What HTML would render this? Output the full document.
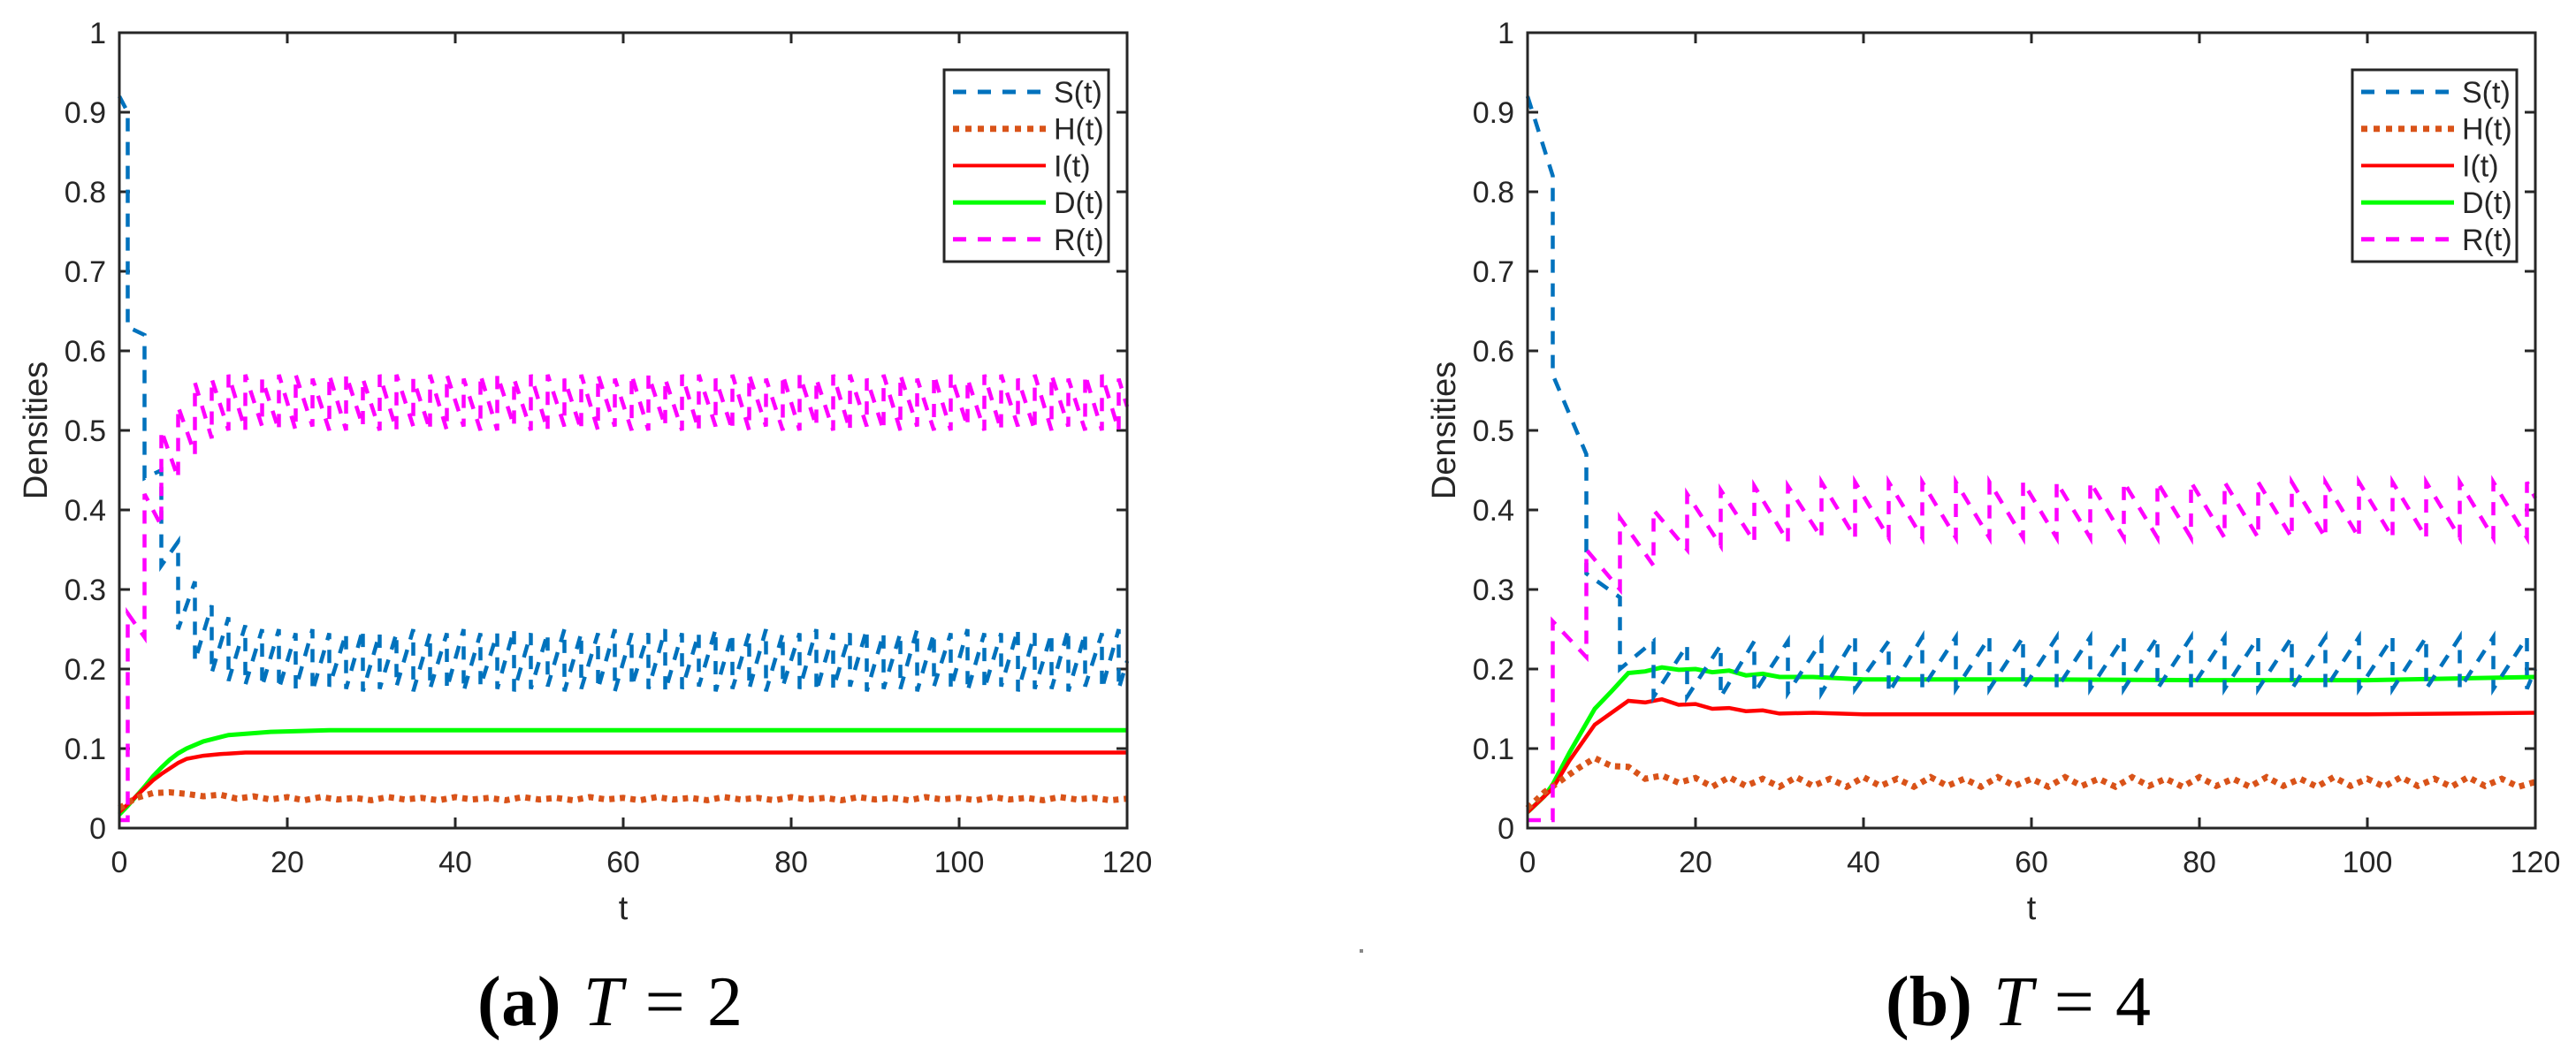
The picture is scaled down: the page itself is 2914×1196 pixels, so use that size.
<!DOCTYPE html>
<html><head><meta charset="utf-8"><style>
html,body{margin:0;padding:0;background:#fff;}
svg{display:block;}
text{font-family:"Liberation Sans",sans-serif;fill:#262626;}
.cap{font-family:"Liberation Serif",serif;fill:#000;font-size:80px;word-spacing:4px;}
</style></head><body>
<svg id="fig" width="2914" height="1196" viewBox="0 0 2914 1196" xmlns="http://www.w3.org/2000/svg">
<text class="cap" x="540" y="1160" textLength="300"><tspan font-weight="bold">(a)</tspan> <tspan font-style="italic">T</tspan> = 2</text>
<text class="cap" x="2133" y="1160" textLength="300"><tspan font-weight="bold">(b)</tspan> <tspan font-style="italic">T</tspan> = 4</text>
<rect x="1538" y="1074" width="4" height="4" fill="#888"/>
</svg>
<script>
// ---------- shared ----------
const xTicks = [0, 20, 40, 60, 80, 100, 120];
const yTicks = [0, 0.1, 0.2, 0.3, 0.4, 0.5, 0.6, 0.7, 0.8, 0.9, 1];
const yTickLabels = ["0","0.1","0.2","0.3","0.4","0.5","0.6","0.7","0.8","0.9","1"];
const legendLabels = ["S(t)","H(t)","I(t)","D(t)","R(t)"];

// ---------- panel (a) T=2 ----------
const aPulseStart = 1, aPulsePeriod = 2;
const aS0 = 0.92, aSEnd = 0.21;
const aSPre  = [0.90,0.62,0.45,0.36,0.31,0.28,0.265,0.255,0.25,0.25,0.245,0.25,0.245,0.245,0.25,0.245,0.245,0.25,0.245,0.245,0.25,0.245,0.245,0.25,0.245,0.245,0.25,0.245,0.245,0.25,0.245,0.245,0.25,0.245,0.245,0.25,0.245,0.245,0.25,0.245,0.245,0.25,0.245,0.245,0.25,0.245,0.245,0.25,0.245,0.245,0.25,0.245,0.245,0.25,0.245,0.245,0.25,0.245,0.245,0.25];
const aSPost = [0.63,0.44,0.33,0.25,0.21,0.195,0.185,0.18,0.178,0.175,0.175,0.172,0.178,0.175,0.172,0.175,0.178,0.172,0.175,0.175,0.172,0.178,0.175,0.172,0.175,0.178,0.172,0.175,0.175,0.172,0.178,0.175,0.172,0.175,0.178,0.172,0.175,0.175,0.172,0.178,0.175,0.172,0.175,0.178,0.172,0.175,0.175,0.172,0.178,0.175,0.172,0.175,0.178,0.172,0.175,0.175,0.172,0.178,0.175,0.175];
const aR0 = 0.01, aREnd = 0.53;
const aRPre  = [0.01,0.24,0.38,0.44,0.47,0.49,0.50,0.50,0.505,0.50,0.50,0.505,0.50,0.50,0.505,0.50,0.50,0.505,0.50,0.50,0.505,0.50,0.50,0.505,0.50,0.50,0.505,0.50,0.50,0.505,0.50,0.50,0.505,0.50,0.50,0.505,0.50,0.50,0.505,0.50,0.50,0.505,0.50,0.50,0.505,0.50,0.50,0.505,0.50,0.50,0.505,0.50,0.50,0.505,0.50,0.50,0.505,0.50,0.50,0.50];
const aRPost = [0.27,0.42,0.50,0.53,0.56,0.565,0.57,0.57,0.565,0.57,0.57,0.565,0.57,0.57,0.565,0.57,0.57,0.565,0.57,0.57,0.565,0.57,0.57,0.565,0.57,0.57,0.565,0.57,0.57,0.565,0.57,0.57,0.565,0.57,0.57,0.565,0.57,0.57,0.565,0.57,0.57,0.565,0.57,0.57,0.565,0.57,0.57,0.565,0.57,0.57,0.565,0.57,0.57,0.565,0.57,0.57,0.565,0.57,0.57,0.565];
const aHStep = 2;
const aH = [0.025,0.038,0.044,0.045,0.043,0.040,0.042,0.037,0.040,0.036,0.039,0.035,0.039,0.036,0.038,0.035,0.039,0.036,0.038,0.035,0.039,0.036,0.038,0.035,0.039,0.036,0.038,0.035,0.039,0.036,0.038,0.035,0.039,0.036,0.038,0.035,0.039,0.036,0.038,0.035,0.039,0.036,0.038,0.035,0.039,0.036,0.038,0.035,0.039,0.036,0.038,0.035,0.039,0.036,0.038,0.035,0.039,0.036,0.038,0.035,0.037];
const aIT = [0,1,2,3,4,5,6,7,8,10,12,15,20,30,60,120];
const aI  = [0.02,0.03,0.04,0.05,0.06,0.068,0.075,0.082,0.087,0.091,0.093,0.095,0.095,0.095,0.095,0.095];
const aDT = [0,1,2,3,4,5,6,7,8,10,13,18,25,40,120];
const aD  = [0.017,0.028,0.04,0.052,0.065,0.076,0.086,0.094,0.100,0.109,0.117,0.121,0.123,0.123,0.123];

// ---------- panel (b) T=4 ----------
const bPulseStart = 3, bPulsePeriod = 4;
const bS0 = 0.92, bSEnd = 0.20;
const bSPre  = [0.82,0.47,0.29,0.235,0.23,0.23,0.235,0.235,0.235,0.24,0.235,0.24,0.24,0.24,0.24,0.24,0.24,0.24,0.24,0.24,0.24,0.24,0.24,0.24,0.24,0.24,0.24,0.24,0.24,0.24];
const bSPost = [0.57,0.32,0.20,0.165,0.165,0.165,0.17,0.17,0.17,0.175,0.17,0.175,0.175,0.175,0.175,0.175,0.175,0.175,0.175,0.175,0.175,0.175,0.175,0.175,0.175,0.175,0.175,0.175,0.175,0.175];
const bR0 = 0.01, bREnd = 0.415;
const bRPre  = [0.01,0.215,0.30,0.33,0.35,0.355,0.36,0.36,0.365,0.365,0.365,0.365,0.365,0.365,0.365,0.365,0.365,0.365,0.365,0.365,0.365,0.365,0.365,0.365,0.365,0.365,0.365,0.365,0.365,0.365];
const bRPost = [0.26,0.35,0.39,0.40,0.42,0.425,0.43,0.43,0.435,0.435,0.435,0.435,0.435,0.435,0.435,0.435,0.435,0.435,0.435,0.435,0.435,0.435,0.435,0.435,0.435,0.435,0.435,0.435,0.435,0.435];
const bHStep = 2;
const bH = [0.025,0.045,0.06,0.075,0.088,0.078,0.077,0.062,0.066,0.057,0.063,0.052,0.064,0.053,0.062,0.052,0.064,0.053,0.062,0.052,0.064,0.053,0.062,0.052,0.064,0.053,0.062,0.052,0.064,0.053,0.062,0.052,0.064,0.053,0.062,0.052,0.064,0.053,0.062,0.052,0.064,0.053,0.062,0.052,0.064,0.053,0.062,0.052,0.064,0.053,0.062,0.052,0.064,0.053,0.062,0.052,0.064,0.053,0.062,0.052,0.058];
const bIT = [0,2,3,5,8,10,12,14,16,18,20,22,24,26,28,30,34,40,60,80,100,120];
const bI  = [0.02,0.04,0.05,0.085,0.13,0.145,0.16,0.158,0.162,0.155,0.156,0.15,0.151,0.147,0.148,0.144,0.145,0.143,0.143,0.143,0.143,0.145];
const bDT = [0,2,3,5,8,10,12,14,16,18,20,22,24,26,28,30,34,40,60,80,100,120];
const bD  = [0.02,0.04,0.055,0.095,0.15,0.172,0.195,0.197,0.202,0.199,0.2,0.196,0.198,0.192,0.194,0.19,0.19,0.187,0.187,0.186,0.186,0.19];

const svg = document.getElementById('fig');
const NS = 'http://www.w3.org/2000/svg';
function mk(tag, attrs){ const e=document.createElementNS(NS,tag); for(const k in attrs) e.setAttribute(k,attrs[k]); svg.appendChild(e); return e; }

function drawPanel(ox, p, key){
  const L=ox, R=ox+1140, T=37, B=937;
  const X = t => L + t/120*(R-L);
  const Y = v => B - v*(B-T);
  xTicks.forEach(t=>{
    const tk=mk('path',{d:`M${X(t)},${B}V${B-12}M${X(t)},${T}V${T+12}`,stroke:'#262626','stroke-width':3,fill:'none'});
    
    
    const lb=mk('text',{x:X(t),y:987,'text-anchor':'middle','font-size':34});
    lb.textContent=String(t);
    
    
  });
  yTicks.forEach((v,i)=>{
    const tk=mk('path',{d:`M${L},${Y(v)}H${L+12}M${R},${Y(v)}H${R-12}`,stroke:'#262626','stroke-width':3,fill:'none'});
    
    
    const lb=mk('text',{x:L-15,y:Y(v)+12,'text-anchor':'end','font-size':34});
    lb.textContent=yTickLabels[i];
    
    
  });
  const xt=mk('text',{x:(L+R)/2,y:1040,'text-anchor':'middle','font-size':38});
  xt.textContent='t';
  
  
  const yt=mk('text',{x:0,y:0,'text-anchor':'middle','font-size':38,transform:`translate(${L-82},${(T+B)/2}) rotate(-90)`});
  yt.textContent='Densities';
  
  

  function pulsePath(v0, pre, post, vEnd, t0, per){
    let d=`M${X(0)},${Y(v0)}`;
    for(let k=0;k<pre.length;k++){ const t=t0+k*per; d+=`L${X(t)},${Y(pre[k])}L${X(t)},${Y(post[k])}`; }
    d+=`L${X(120)},${Y(vEnd)}`;
    return d;
  }
  function curvePath(ts, vs){ return ts.map((t,i)=>(i?'L':'M')+X(t)+','+Y(vs[i])).join(''); }
  function stepPath(step, vs){ return vs.map((v,i)=>(i?'L':'M')+X(i*step)+','+Y(v)).join(''); }

  const gD=mk('path',{d:curvePath(p.DT,p.D),stroke:'#00FF00','stroke-width':5,fill:'none'});
  
  
  const gI=mk('path',{d:curvePath(p.IT,p.I),stroke:'#FF0000','stroke-width':4.5,fill:'none'});
  
  
  const gH=mk('path',{d:stepPath(p.HStep,p.H),stroke:'#D95319','stroke-width':7,'stroke-dasharray':'6,6',fill:'none'});
  
  
  const gS=mk('path',{d:pulsePath(p.S0,p.SPre,p.SPost,p.SEnd,p.t0,p.per),stroke:'#0072BD','stroke-width':4.5,'stroke-dasharray':'15,12',fill:'none'});
  
  
  const gR=mk('path',{d:pulsePath(p.R0,p.RPre,p.RPost,p.REnd,p.t0,p.per),stroke:'#FF00FF','stroke-width':4.5,'stroke-dasharray':'15,12',fill:'none'});
  
  

  const fr=mk('rect',{x:L,y:T,width:R-L,height:B-T,fill:'none',stroke:'#262626','stroke-width':3});
  
  

  const lx=L+933, ly=79;
  const lg=mk('rect',{x:lx,y:ly,width:186,height:217,fill:'#fff',stroke:'#262626','stroke-width':3});
  
  
  const styles=[
    {c:'#0072BD',w:5,da:'15,13'},{c:'#D95319',w:7,da:'7,7'},{c:'#FF0000',w:4,da:''},{c:'#00FF00',w:5,da:''},{c:'#FF00FF',w:5,da:'15,13'}];
  legendLabels.forEach((lab,i)=>{
    const yy=ly+25+i*41.7;
    const s=styles[i];
    const ln=mk('path',{d:`M${lx+10},${yy}H${lx+115}`,stroke:s.c,'stroke-width':s.w,'stroke-dasharray':s.da||'none',fill:'none'});
    
    
    const tx=mk('text',{x:lx+124,y:yy+12,'font-size':34,fill:'#000'});
    tx.textContent=lab;
    
    
  });
}

drawPanel(135,{S0:aS0,SPre:aSPre,SPost:aSPost,SEnd:aSEnd,R0:aR0,RPre:aRPre,RPost:aRPost,REnd:aREnd,t0:aPulseStart,per:aPulsePeriod,HStep:aHStep,H:aH,IT:aIT,I:aI,DT:aDT,D:aD},'a');
drawPanel(1728,{S0:bS0,SPre:bSPre,SPost:bSPost,SEnd:bSEnd,R0:bR0,RPre:bRPre,RPost:bRPost,REnd:bREnd,t0:bPulseStart,per:bPulsePeriod,HStep:bHStep,H:bH,IT:bIT,I:bI,DT:bDT,D:bD},'b');
</script>
</body></html>
